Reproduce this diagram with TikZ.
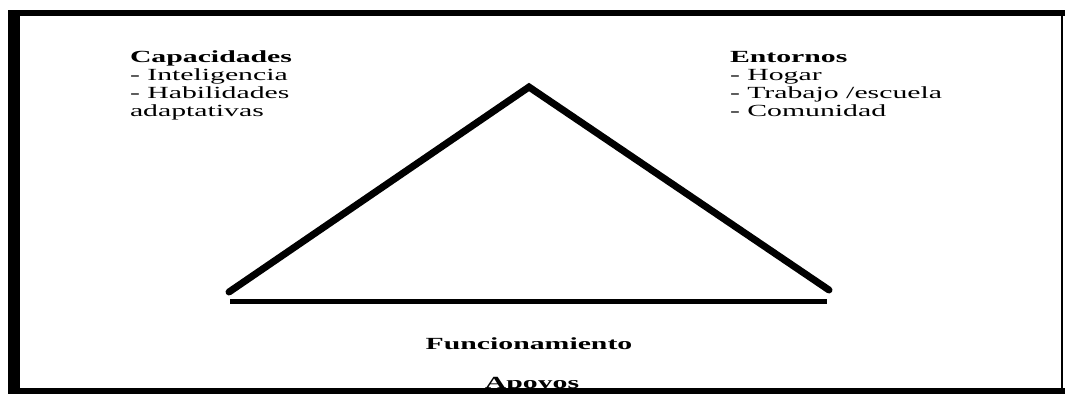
\documentclass[tikz,border=0pt]{standalone}
\usepackage{fontspec}
\setmainfont{Liberation Serif}
\newfontfamily\widefont[FakeStretch=1.75]{Liberation Serif}
\begin{document}
\begin{tikzpicture}[x=1pt,y=-1pt,
  lbl/.style={inner sep=0pt,outer sep=0pt,font=\widefont\fontsize{17}{18}\selectfont,anchor=base west},
  ctr/.style={inner sep=0pt,outer sep=0pt,font=\widefont\fontsize{17}{18}\selectfont\bfseries,anchor=base},
  thickline/.style={line width=7pt,line cap=round},
  baseline/.style={line width=5pt}]
\useasboundingbox (0,0) rectangle (1065,394);
% frame
\fill (8,10) rectangle (1065,16);
\fill (8,10) rectangle (20,394);
\fill (1061,10) rectangle (1063,394);
\fill (8,388) rectangle (1065,394);
% triangle
\coordinate (apex) at (529,87);
\coordinate (bl) at (229,292);
\coordinate (br) at (829,290);
\coordinate (b1) at (230,301);
\coordinate (b2) at (827,301);
\draw[thickline] (bl) -- (apex) -- (br);
\draw[baseline] (b1) -- (b2);
% texts
\node[lbl] (cap) at (130,62) {\textbf{Capacidades}};
\node[lbl] (cap1) at (130,80) {- Inteligencia};
\node[lbl] (cap2) at (130,98) {- Habilidades};
\node[lbl] (cap3) at (130,116) {adaptativas};
\node[lbl] (ent) at (730,62) {\textbf{Entornos}};
\node[lbl] (ent1) at (730,80) {- Hogar};
\node[lbl] (ent2) at (730,98) {- Trabajo /escuela};
\node[lbl] (ent3) at (730,116) {- Comunidad};
\node[ctr] (fun) at (529,349) {Funcionamiento};
\begin{scope}
\clip (20,16) rectangle (1061,388);
\node[ctr] (apo) at (532,388) {Apoyos};
\end{scope}
\end{tikzpicture}
\end{document}
